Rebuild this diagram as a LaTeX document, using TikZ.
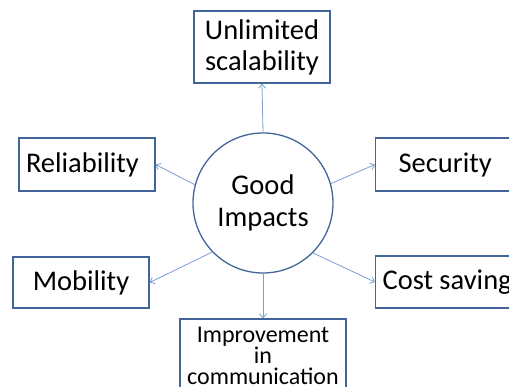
\documentclass[tikz,border=0pt]{standalone}
\usepackage{fontspec}
\setmainfont{Carlito}
\usetikzlibrary{arrows.meta}
\definecolor{boxblue}{RGB}{65,101,152}
\definecolor{arrowblue}{RGB}{122,158,210}
\tikzset{impactbox/.style={draw=boxblue, line width=1.3pt, rectangle, inner sep=0pt, font=\fontsize{28.5}{31}\selectfont},
 impactcircle/.style={draw=boxblue, line width=1.3pt, circle, minimum size=140pt, inner sep=0pt, align=center, font=\fontsize{28.5}{32}\selectfont},
 impactarrow/.style={draw=arrowblue, line width=0.8pt, -{Straight Barb[length=4pt,width=7pt]}}}

\begin{document}
\begin{tikzpicture}[x=1pt,y=-1pt]
  \useasboundingbox (0,0) rectangle (509,387);
  \node[impactcircle] (impacts) at (263,203) {Good\\Impacts};
  \node[impactbox, minimum width=136pt, minimum height=72pt, align=center] (scal) at (262,47) {Unlimited\\scalability};
  \node[impactbox, minimum width=136pt, minimum height=53pt, text width=122pt, inner xsep=7pt, align=left] (rel) at (87,164.5) {Reliability};
  \node[impactbox, anchor=west, minimum height=53pt, text width=137pt, inner xsep=23pt, align=left] (sec) at (375,164.5) {Security};
  \node[impactbox, minimum width=136pt, minimum height=51pt] (mob) at (81,282.5) {Mobility};
  \node[impactbox, anchor=west, minimum height=52pt, text width=153pt, inner xsep=7pt, align=left] (cost) at (375,282) {Cost\hspace{0.22em}saving};
  \node[impactbox, minimum width=166pt, minimum height=74pt, align=center, font=\fontsize{24}{21}\selectfont] (impr) at (263,356) {Improvement\\in\\communication};
  % arrows out of the circle
  \draw[impactarrow] (impacts.north) -- (scal.south);
  \draw[impactarrow] (impacts.165) -- (rel.east);
  \draw[impactarrow] (impacts.16) -- (sec.west);
  \draw[impactarrow] (impacts.224) -- (mob.east);
  \draw[impactarrow] (impacts.315) -- (cost.west);
  \draw[impactarrow] (impacts.south) -- (impr.north);
\end{tikzpicture}
\end{document}
